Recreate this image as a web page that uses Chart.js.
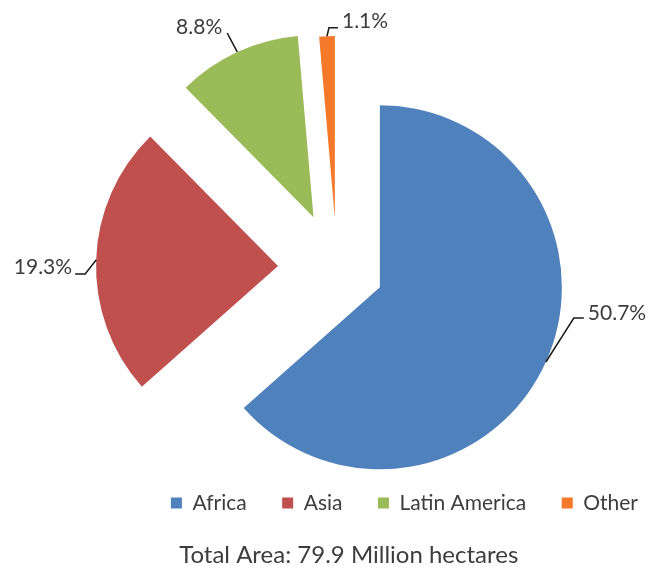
<!DOCTYPE html>
<html>
<head>
<meta charset="utf-8">
<script src="https://cdn.jsdelivr.net/npm/chart.js@4"></script>
<style>
  html, body { margin: 0; padding: 0; background: #fff; }
</style>
</head>
<body>
<canvas id="pieChart" width="650" height="571"></canvas>
<script>
const regions = ["Africa", "Asia", "Latin America", "Other"];
const areaMha = [50.7, 19.3, 8.8, 1.1];
const sliceColors = ["#4F81BD", "#C0504D", "#9BBB59", "#F5792A"];
const caption = "Total Area: 79.9 Million hectares";

// how far each slice is pulled away from the centre, px
const explode = [47, 59, 56, 50];
// leader lines, relative to the point on the arc at the slice's middle angle
const leaders = [
  { elbow: [28, -44], end: [38, -44], text: [4, -5], align: "left" },
  { elbow: [-11, 14], end: [-21, 14], text: [-3, -7], align: "right" },
  { elbow: [-8, -15], end: [-10, -19], text: [-5, -5.5], align: "right" },
  { elbow: [2, -8.5], end: [11, -8.5], text: [4, -6.7], align: "left" }
];

Chart.defaults.font.family = "Lato";
Chart.defaults.color = "#3d3d3d";

const explodePlugin = {
  id: "explode",
  afterDatasetsUpdate(chart) {
    chart.getDatasetMeta(0).data.forEach((arc, i) => {
      const mid = (arc.startAngle + arc.endAngle) / 2;
      arc.x += Math.cos(mid) * explode[i];
      arc.y += Math.sin(mid) * explode[i];
    });
  }
};

const leaderLabels = {
  id: "leaderLabels",
  afterDatasetsDraw(chart) {
    const ctx = chart.ctx;
    const values = chart.data.datasets[0].data;
    ctx.save();
    ctx.font = "21px Lato";
    ctx.fillStyle = "#3d3d3d";
    ctx.strokeStyle = "#1a1a1a";
    ctx.lineWidth = 1.5;
    ctx.textBaseline = "middle";
    chart.getDatasetMeta(0).data.forEach((arc, i) => {
      const mid = (arc.startAngle + arc.endAngle) / 2;
      const ax = arc.x + Math.cos(mid) * arc.outerRadius;
      const ay = arc.y + Math.sin(mid) * arc.outerRadius;
      const l = leaders[i];
      ctx.beginPath();
      ctx.moveTo(ax, ay);
      ctx.lineTo(ax + l.elbow[0], ay + l.elbow[1]);
      ctx.lineTo(ax + l.end[0], ay + l.end[1]);
      ctx.stroke();
      ctx.textAlign = l.align;
      ctx.fillText(values[i].toFixed(1) + "%", ax + l.end[0] + l.text[0], ay + l.end[1] + l.text[1]);
    });
    ctx.restore();
  }
};

new Chart(document.getElementById("pieChart"), {
  type: "pie",
  data: {
    labels: regions,
    datasets: [{
      data: areaMha,
      backgroundColor: sliceColors,
      borderWidth: 0,
      hoverOffset: 0,
      clip: false
    }]
  },
  options: {
    responsive: false,
    animation: false,
    radius: 182,
    layout: { padding: { left: 24, right: -23.5, top: 79, bottom: 0 } },
    plugins: {
      legend: {
        position: "bottom",
        align: "end",
        labels: {
          boxWidth: 11,
          boxHeight: 11,
          padding: 35.5,
          color: "#3d3d3d",
          font: { size: 21 }
        }
      },
      title: {
        display: true,
        position: "bottom",
        text: caption,
        color: "#3d3d3d",
        font: { size: 24, weight: "normal" },
        padding: { top: 17, bottom: 1.6 }
      },
      tooltip: { enabled: false }
    }
  },
  plugins: [explodePlugin, leaderLabels]
});
</script>
</body>
</html>
